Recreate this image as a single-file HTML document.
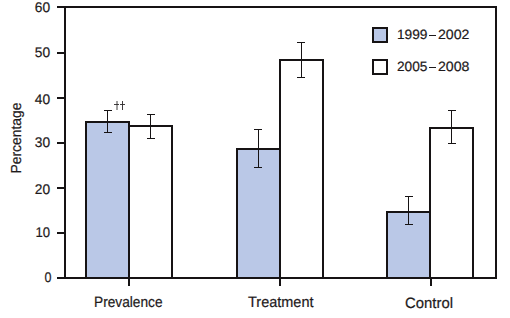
<!DOCTYPE html>
<html><head><meta charset="utf-8"><style>
html,body{margin:0;padding:0;background:#fff;}
body{width:510px;height:318px;overflow:hidden;}
svg{display:block;}
svg text{text-rendering:geometricPrecision;}
text{font-family:"Liberation Sans",sans-serif;font-size:15px;fill:#1e1a1b;stroke:#1e1a1b;stroke-width:0.2px;}
</style></head><body>
<svg width="510" height="318" viewBox="0 0 510 318">
<g shape-rendering="crispEdges">
<rect x="64" y="6" width="2" height="273" fill="#161314"/>
<rect x="57" y="6" width="440" height="2" fill="#161314"/>
<rect x="495" y="6" width="2" height="273" fill="#161314"/>
<rect x="57" y="277" width="440" height="2" fill="#161314"/>
<rect x="57" y="52" width="8" height="2" fill="#161314"/>
<rect x="57" y="97" width="8" height="2" fill="#161314"/>
<rect x="57" y="142" width="8" height="2" fill="#161314"/>
<rect x="57" y="187" width="8" height="2" fill="#161314"/>
<rect x="57" y="232" width="8" height="2" fill="#161314"/>
<rect x="85" y="121" width="45" height="158" fill="#bac8e7"/>
<rect x="236" y="148" width="45" height="131" fill="#bac8e7"/>
<rect x="386" y="211" width="45" height="68" fill="#bac8e7"/>
<rect x="85" y="121" width="2" height="158" fill="#161314"/>
<rect x="128" y="121" width="2" height="158" fill="#161314"/>
<rect x="85" y="121" width="45" height="2" fill="#161314"/>
<rect x="128" y="125" width="2" height="154" fill="#161314"/>
<rect x="171" y="125" width="2" height="154" fill="#161314"/>
<rect x="128" y="125" width="45" height="2" fill="#161314"/>
<rect x="236" y="148" width="2" height="131" fill="#161314"/>
<rect x="279" y="148" width="2" height="131" fill="#161314"/>
<rect x="236" y="148" width="45" height="2" fill="#161314"/>
<rect x="279" y="59" width="2" height="220" fill="#161314"/>
<rect x="322" y="59" width="2" height="220" fill="#161314"/>
<rect x="279" y="59" width="45" height="2" fill="#161314"/>
<rect x="386" y="211" width="2" height="68" fill="#161314"/>
<rect x="429" y="211" width="2" height="68" fill="#161314"/>
<rect x="386" y="211" width="45" height="2" fill="#161314"/>
<rect x="429" y="127" width="2" height="152" fill="#161314"/>
<rect x="472" y="127" width="2" height="152" fill="#161314"/>
<rect x="429" y="127" width="45" height="2" fill="#161314"/>
<rect x="57" y="277" width="440" height="2" fill="#161314"/>
<rect x="128" y="279" width="2" height="7" fill="#161314"/>
<rect x="279" y="279" width="2" height="7" fill="#161314"/>
<rect x="430" y="279" width="2" height="7" fill="#161314"/>
<rect x="107" y="110" width="1" height="23" fill="#161314"/>
<rect x="104" y="110" width="8" height="1" fill="#161314"/>
<rect x="104" y="132" width="8" height="1" fill="#161314"/>
<rect x="150" y="114" width="1" height="25" fill="#161314"/>
<rect x="147" y="114" width="8" height="1" fill="#161314"/>
<rect x="147" y="138" width="8" height="1" fill="#161314"/>
<rect x="258" y="129" width="1" height="39" fill="#161314"/>
<rect x="254" y="129" width="8" height="1" fill="#161314"/>
<rect x="254" y="167" width="8" height="1" fill="#161314"/>
<rect x="301" y="42" width="1" height="36" fill="#161314"/>
<rect x="297" y="42" width="8" height="1" fill="#161314"/>
<rect x="297" y="77" width="8" height="1" fill="#161314"/>
<rect x="408" y="196" width="1" height="29" fill="#161314"/>
<rect x="405" y="196" width="8" height="1" fill="#161314"/>
<rect x="405" y="224" width="8" height="1" fill="#161314"/>
<rect x="451" y="110" width="1" height="34" fill="#161314"/>
<rect x="448" y="110" width="8" height="1" fill="#161314"/>
<rect x="448" y="143" width="8" height="1" fill="#161314"/>
<rect x="372" y="27" width="16" height="16" fill="#bac8e7"/>
<rect x="429" y="35" width="7" height="1" fill="#1e1a1b"/>
<rect x="429" y="67" width="7" height="1" fill="#1e1a1b"/>
<rect x="372" y="27" width="16" height="2" fill="#161314"/>
<rect x="372" y="41" width="16" height="2" fill="#161314"/>
<rect x="372" y="27" width="2" height="16" fill="#161314"/>
<rect x="386" y="27" width="2" height="16" fill="#161314"/>
<rect x="372" y="59" width="16" height="2" fill="#161314"/>
<rect x="372" y="73" width="16" height="2" fill="#161314"/>
<rect x="372" y="59" width="2" height="16" fill="#161314"/>
<rect x="386" y="59" width="2" height="16" fill="#161314"/>
</g>
<g stroke="#2b2829" stroke-width="0.9" fill="none">
<line x1="117" y1="101" x2="117" y2="110"/><line x1="114" y1="104.5" x2="119" y2="104.5"/>
<line x1="122.5" y1="101" x2="122.5" y2="110"/><line x1="120" y1="104.5" x2="125" y2="104.5"/>
</g>
<text x="34.8" y="12" text-anchor="start" textLength="15.3" lengthAdjust="spacingAndGlyphs" style="font-size:14px" >60</text>
<text x="34.8" y="57" text-anchor="start" textLength="15.3" lengthAdjust="spacingAndGlyphs" style="font-size:14px" >50</text>
<text x="34.8" y="103.5" text-anchor="start" textLength="15.3" lengthAdjust="spacingAndGlyphs" style="font-size:14px" >40</text>
<text x="34.8" y="147" text-anchor="start" textLength="15.3" lengthAdjust="spacingAndGlyphs" style="font-size:14px" >30</text>
<text x="34.8" y="193.5" text-anchor="start" textLength="15.3" lengthAdjust="spacingAndGlyphs" style="font-size:14px" >20</text>
<text x="35.5" y="237" text-anchor="start" textLength="14.6" lengthAdjust="spacingAndGlyphs" style="font-size:14px" >10</text>
<text x="44.5" y="282" text-anchor="start" textLength="7" lengthAdjust="spacingAndGlyphs" style="font-size:14px" >0</text>
<text x="94" y="307" text-anchor="start" textLength="68.5" lengthAdjust="spacingAndGlyphs" style="font-size:15px" >Prevalence</text>
<text x="248" y="307" text-anchor="start" textLength="65.5" lengthAdjust="spacingAndGlyphs" style="font-size:15px" >Treatment</text>
<text x="405" y="308" text-anchor="start" textLength="48" lengthAdjust="spacingAndGlyphs" style="font-size:15px" >Control</text>
<text x="397" y="38.6" text-anchor="start" textLength="30.5" lengthAdjust="spacingAndGlyphs" style="font-size:13.5px" >1999</text>
<text x="438" y="38.6" text-anchor="start" textLength="31.5" lengthAdjust="spacingAndGlyphs" style="font-size:13.5px" >2002</text>
<text x="397" y="70.6" text-anchor="start" textLength="30.5" lengthAdjust="spacingAndGlyphs" style="font-size:13.5px" >2005</text>
<text x="438" y="70.6" text-anchor="start" textLength="31.5" lengthAdjust="spacingAndGlyphs" style="font-size:13.5px" >2008</text>
<text x="0" y="0" text-anchor="start" textLength="71" lengthAdjust="spacingAndGlyphs" style="font-size:14.5px" transform="translate(21 173.5) rotate(-90)">Percentage</text>
</svg>
</body></html>
